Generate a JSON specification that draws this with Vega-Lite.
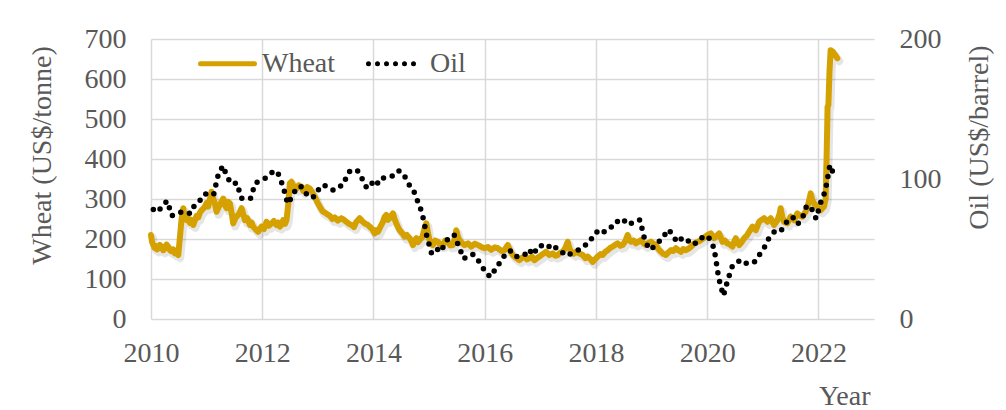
{
  "$schema": "https://vega.github.io/schema/vega-lite/v6.json",
  "autosize": "none",
  "width": 723,
  "height": 280,
  "padding": {"left": 151, "top": 39, "right": 132, "bottom": 91},
  "background": "white",
  "config": {
    "view": {"stroke": null},
    "font": "Liberation Serif",
    "axis": {
      "labelFont": "Liberation Serif",
      "titleFont": "Liberation Serif",
      "labelFontSize": 28,
      "titleFontSize": 28,
      "labelColor": "#595959",
      "titleColor": "#595959",
      "titleFontWeight": "normal",
      "ticks": false,
      "tickSize": 0,
      "domain": false,
      "labelFlush": false,
      "labelOverlap": false,
      "gridColor": "#D9D9D9",
      "gridWidth": 1.5
    },
    "legend": {
      "labelFont": "Liberation Serif",
      "labelFontSize": 28,
      "labelColor": "#595959"
    }
  },
  "datasets": {
    "prices": [
      {"s":"Wheat","t":2010.000,"p":210},{"s":"Wheat","t":2010.020,"p":192},{"s":"Wheat","t":2010.042,"p":185},{"s":"Wheat","t":2010.065,"p":178},{"s":"Wheat","t":2010.090,"p":182},{"s":"Wheat","t":2010.110,"p":174},{"s":"Wheat","t":2010.132,"p":177},{"s":"Wheat","t":2010.160,"p":185},{"s":"Wheat","t":2010.190,"p":181},{"s":"Wheat","t":2010.220,"p":172},{"s":"Wheat","t":2010.251,"p":177},{"s":"Wheat","t":2010.280,"p":186},{"s":"Wheat","t":2010.311,"p":180},{"s":"Wheat","t":2010.340,"p":172},{"s":"Wheat","t":2010.371,"p":169},{"s":"Wheat","t":2010.400,"p":174},{"s":"Wheat","t":2010.431,"p":164},{"s":"Wheat","t":2010.461,"p":166},{"s":"Wheat","t":2010.490,"p":160},{"s":"Wheat","t":2010.521,"p":206},{"s":"Wheat","t":2010.550,"p":250},{"s":"Wheat","t":2010.580,"p":277},{"s":"Wheat","t":2010.610,"p":255},{"s":"Wheat","t":2010.640,"p":247},{"s":"Wheat","t":2010.670,"p":252},{"s":"Wheat","t":2010.700,"p":240},{"s":"Wheat","t":2010.730,"p":248},{"s":"Wheat","t":2010.760,"p":235},{"s":"Wheat","t":2010.790,"p":247},{"s":"Wheat","t":2010.820,"p":258},{"s":"Wheat","t":2010.850,"p":254},{"s":"Wheat","t":2010.880,"p":266},{"s":"Wheat","t":2010.910,"p":272},{"s":"Wheat","t":2010.940,"p":276},{"s":"Wheat","t":2010.969,"p":281},
      {"s":"Wheat","t":2011.000,"p":290},{"s":"Wheat","t":2011.029,"p":281},{"s":"Wheat","t":2011.060,"p":300},{"s":"Wheat","t":2011.089,"p":318},{"s":"Wheat","t":2011.120,"p":300},{"s":"Wheat","t":2011.149,"p":289},{"s":"Wheat","t":2011.179,"p":268},{"s":"Wheat","t":2011.210,"p":278},{"s":"Wheat","t":2011.239,"p":285},{"s":"Wheat","t":2011.270,"p":294},{"s":"Wheat","t":2011.299,"p":301},{"s":"Wheat","t":2011.330,"p":285},{"s":"Wheat","t":2011.359,"p":277},{"s":"Wheat","t":2011.390,"p":293},{"s":"Wheat","t":2011.418,"p":289},{"s":"Wheat","t":2011.450,"p":265},{"s":"Wheat","t":2011.478,"p":239},{"s":"Wheat","t":2011.510,"p":250},{"s":"Wheat","t":2011.538,"p":256},{"s":"Wheat","t":2011.580,"p":262},{"s":"Wheat","t":2011.628,"p":277},{"s":"Wheat","t":2011.660,"p":262},{"s":"Wheat","t":2011.688,"p":247},{"s":"Wheat","t":2011.730,"p":252},{"s":"Wheat","t":2011.777,"p":235},{"s":"Wheat","t":2011.810,"p":241},{"s":"Wheat","t":2011.837,"p":231},{"s":"Wheat","t":2011.880,"p":224},{"s":"Wheat","t":2011.927,"p":218},{"s":"Wheat","t":2011.960,"p":226},{"s":"Wheat","t":2011.987,"p":231},
      {"s":"Wheat","t":2012.030,"p":225},{"s":"Wheat","t":2012.077,"p":243},{"s":"Wheat","t":2012.120,"p":233},{"s":"Wheat","t":2012.166,"p":239},{"s":"Wheat","t":2012.210,"p":245},{"s":"Wheat","t":2012.256,"p":235},{"s":"Wheat","t":2012.290,"p":241},{"s":"Wheat","t":2012.316,"p":231},{"s":"Wheat","t":2012.350,"p":236},{"s":"Wheat","t":2012.376,"p":247},{"s":"Wheat","t":2012.410,"p":238},{"s":"Wheat","t":2012.436,"p":247},{"s":"Wheat","t":2012.470,"p":290},{"s":"Wheat","t":2012.496,"p":339},{"s":"Wheat","t":2012.526,"p":343},{"s":"Wheat","t":2012.570,"p":330},{"s":"Wheat","t":2012.616,"p":326},{"s":"Wheat","t":2012.660,"p":334},{"s":"Wheat","t":2012.705,"p":331},{"s":"Wheat","t":2012.740,"p":320},{"s":"Wheat","t":2012.765,"p":322},{"s":"Wheat","t":2012.810,"p":330},{"s":"Wheat","t":2012.855,"p":326},{"s":"Wheat","t":2012.900,"p":316},{"s":"Wheat","t":2012.944,"p":306},{"s":"Wheat","t":2012.990,"p":292},
      {"s":"Wheat","t":2013.034,"p":281},{"s":"Wheat","t":2013.080,"p":270},{"s":"Wheat","t":2013.124,"p":266},{"s":"Wheat","t":2013.170,"p":262},{"s":"Wheat","t":2013.214,"p":258},{"s":"Wheat","t":2013.260,"p":250},{"s":"Wheat","t":2013.303,"p":254},{"s":"Wheat","t":2013.360,"p":246},{"s":"Wheat","t":2013.423,"p":252},{"s":"Wheat","t":2013.470,"p":248},{"s":"Wheat","t":2013.513,"p":243},{"s":"Wheat","t":2013.560,"p":238},{"s":"Wheat","t":2013.603,"p":235},{"s":"Wheat","t":2013.650,"p":230},{"s":"Wheat","t":2013.692,"p":243},{"s":"Wheat","t":2013.752,"p":252},{"s":"Wheat","t":2013.800,"p":244},{"s":"Wheat","t":2013.842,"p":239},{"s":"Wheat","t":2013.890,"p":236},{"s":"Wheat","t":2013.932,"p":231},{"s":"Wheat","t":2013.980,"p":224},
      {"s":"Wheat","t":2014.022,"p":214},{"s":"Wheat","t":2014.050,"p":222},{"s":"Wheat","t":2014.081,"p":218},{"s":"Wheat","t":2014.130,"p":232},{"s":"Wheat","t":2014.171,"p":243},{"s":"Wheat","t":2014.200,"p":255},{"s":"Wheat","t":2014.231,"p":260},{"s":"Wheat","t":2014.260,"p":248},{"s":"Wheat","t":2014.291,"p":252},{"s":"Wheat","t":2014.320,"p":258},{"s":"Wheat","t":2014.351,"p":264},{"s":"Wheat","t":2014.380,"p":250},{"s":"Wheat","t":2014.411,"p":239},{"s":"Wheat","t":2014.440,"p":230},{"s":"Wheat","t":2014.470,"p":222},{"s":"Wheat","t":2014.520,"p":214},{"s":"Wheat","t":2014.560,"p":206},{"s":"Wheat","t":2014.600,"p":210},{"s":"Wheat","t":2014.650,"p":202},{"s":"Wheat","t":2014.680,"p":195},{"s":"Wheat","t":2014.710,"p":185},{"s":"Wheat","t":2014.740,"p":195},{"s":"Wheat","t":2014.770,"p":202},{"s":"Wheat","t":2014.800,"p":192},{"s":"Wheat","t":2014.829,"p":197},{"s":"Wheat","t":2014.880,"p":205},{"s":"Wheat","t":2014.919,"p":227},{"s":"Wheat","t":2014.949,"p":239},{"s":"Wheat","t":2014.980,"p":215},
      {"s":"Wheat","t":2015.009,"p":197},{"s":"Wheat","t":2015.040,"p":190},{"s":"Wheat","t":2015.069,"p":185},{"s":"Wheat","t":2015.110,"p":196},{"s":"Wheat","t":2015.159,"p":193},{"s":"Wheat","t":2015.200,"p":186},{"s":"Wheat","t":2015.249,"p":185},{"s":"Wheat","t":2015.290,"p":196},{"s":"Wheat","t":2015.338,"p":193},{"s":"Wheat","t":2015.380,"p":184},{"s":"Wheat","t":2015.428,"p":185},{"s":"Wheat","t":2015.460,"p":200},{"s":"Wheat","t":2015.488,"p":222},{"s":"Wheat","t":2015.520,"p":205},{"s":"Wheat","t":2015.548,"p":197},{"s":"Wheat","t":2015.590,"p":190},{"s":"Wheat","t":2015.637,"p":185},{"s":"Wheat","t":2015.700,"p":189},{"s":"Wheat","t":2015.757,"p":181},{"s":"Wheat","t":2015.820,"p":188},{"s":"Wheat","t":2015.877,"p":185},{"s":"Wheat","t":2015.940,"p":180},{"s":"Wheat","t":2015.996,"p":177},
      {"s":"Wheat","t":2016.060,"p":180},{"s":"Wheat","t":2016.116,"p":173},{"s":"Wheat","t":2016.180,"p":179},{"s":"Wheat","t":2016.236,"p":177},{"s":"Wheat","t":2016.300,"p":170},{"s":"Wheat","t":2016.355,"p":172},{"s":"Wheat","t":2016.415,"p":185},{"s":"Wheat","t":2016.460,"p":170},{"s":"Wheat","t":2016.505,"p":160},{"s":"Wheat","t":2016.560,"p":153},{"s":"Wheat","t":2016.625,"p":147},{"s":"Wheat","t":2016.670,"p":153},{"s":"Wheat","t":2016.715,"p":156},{"s":"Wheat","t":2016.760,"p":149},{"s":"Wheat","t":2016.804,"p":152},{"s":"Wheat","t":2016.850,"p":156},{"s":"Wheat","t":2016.894,"p":147},{"s":"Wheat","t":2016.940,"p":152},{"s":"Wheat","t":2016.984,"p":156},
      {"s":"Wheat","t":2017.040,"p":162},{"s":"Wheat","t":2017.104,"p":168},{"s":"Wheat","t":2017.160,"p":160},{"s":"Wheat","t":2017.223,"p":164},{"s":"Wheat","t":2017.270,"p":158},{"s":"Wheat","t":2017.313,"p":160},{"s":"Wheat","t":2017.360,"p":166},{"s":"Wheat","t":2017.403,"p":168},{"s":"Wheat","t":2017.450,"p":178},{"s":"Wheat","t":2017.493,"p":193},{"s":"Wheat","t":2017.520,"p":178},{"s":"Wheat","t":2017.552,"p":168},{"s":"Wheat","t":2017.600,"p":163},{"s":"Wheat","t":2017.642,"p":168},{"s":"Wheat","t":2017.700,"p":164},{"s":"Wheat","t":2017.762,"p":160},{"s":"Wheat","t":2017.810,"p":152},{"s":"Wheat","t":2017.852,"p":156},{"s":"Wheat","t":2017.900,"p":150},{"s":"Wheat","t":2017.941,"p":143},{"s":"Wheat","t":2017.990,"p":150},
      {"s":"Wheat","t":2018.031,"p":156},{"s":"Wheat","t":2018.080,"p":162},{"s":"Wheat","t":2018.121,"p":160},{"s":"Wheat","t":2018.170,"p":168},{"s":"Wheat","t":2018.211,"p":172},{"s":"Wheat","t":2018.260,"p":178},{"s":"Wheat","t":2018.301,"p":181},{"s":"Wheat","t":2018.350,"p":186},{"s":"Wheat","t":2018.390,"p":189},{"s":"Wheat","t":2018.440,"p":183},{"s":"Wheat","t":2018.480,"p":185},{"s":"Wheat","t":2018.530,"p":195},{"s":"Wheat","t":2018.570,"p":210},{"s":"Wheat","t":2018.600,"p":198},{"s":"Wheat","t":2018.630,"p":193},{"s":"Wheat","t":2018.680,"p":196},{"s":"Wheat","t":2018.720,"p":189},{"s":"Wheat","t":2018.770,"p":194},{"s":"Wheat","t":2018.810,"p":197},{"s":"Wheat","t":2018.850,"p":190},{"s":"Wheat","t":2018.899,"p":185},{"s":"Wheat","t":2018.940,"p":190},{"s":"Wheat","t":2018.989,"p":193},
      {"s":"Wheat","t":2019.040,"p":188},{"s":"Wheat","t":2019.079,"p":185},{"s":"Wheat","t":2019.120,"p":175},{"s":"Wheat","t":2019.169,"p":168},{"s":"Wheat","t":2019.210,"p":163},{"s":"Wheat","t":2019.258,"p":160},{"s":"Wheat","t":2019.300,"p":166},{"s":"Wheat","t":2019.348,"p":172},{"s":"Wheat","t":2019.390,"p":170},{"s":"Wheat","t":2019.438,"p":177},{"s":"Wheat","t":2019.480,"p":172},{"s":"Wheat","t":2019.528,"p":168},{"s":"Wheat","t":2019.570,"p":175},{"s":"Wheat","t":2019.617,"p":172},{"s":"Wheat","t":2019.677,"p":177},{"s":"Wheat","t":2019.720,"p":182},{"s":"Wheat","t":2019.767,"p":189},{"s":"Wheat","t":2019.830,"p":193},{"s":"Wheat","t":2019.886,"p":197},{"s":"Wheat","t":2019.950,"p":204},
      {"s":"Wheat","t":2020.006,"p":210},{"s":"Wheat","t":2020.066,"p":214},{"s":"Wheat","t":2020.095,"p":206},{"s":"Wheat","t":2020.126,"p":202},{"s":"Wheat","t":2020.170,"p":208},{"s":"Wheat","t":2020.215,"p":214},{"s":"Wheat","t":2020.245,"p":204},{"s":"Wheat","t":2020.275,"p":193},{"s":"Wheat","t":2020.320,"p":196},{"s":"Wheat","t":2020.365,"p":189},{"s":"Wheat","t":2020.410,"p":186},{"s":"Wheat","t":2020.455,"p":181},{"s":"Wheat","t":2020.485,"p":193},{"s":"Wheat","t":2020.515,"p":202},{"s":"Wheat","t":2020.545,"p":192},{"s":"Wheat","t":2020.575,"p":185},{"s":"Wheat","t":2020.620,"p":192},{"s":"Wheat","t":2020.664,"p":202},{"s":"Wheat","t":2020.710,"p":208},{"s":"Wheat","t":2020.754,"p":218},{"s":"Wheat","t":2020.814,"p":231},{"s":"Wheat","t":2020.874,"p":222},{"s":"Wheat","t":2020.934,"p":243},{"s":"Wheat","t":2020.980,"p":248},
      {"s":"Wheat","t":2021.023,"p":252},{"s":"Wheat","t":2021.083,"p":243},{"s":"Wheat","t":2021.143,"p":252},{"s":"Wheat","t":2021.203,"p":235},{"s":"Wheat","t":2021.263,"p":247},{"s":"Wheat","t":2021.300,"p":262},{"s":"Wheat","t":2021.322,"p":277},{"s":"Wheat","t":2021.350,"p":256},{"s":"Wheat","t":2021.382,"p":243},{"s":"Wheat","t":2021.442,"p":239},{"s":"Wheat","t":2021.502,"p":256},{"s":"Wheat","t":2021.562,"p":247},{"s":"Wheat","t":2021.622,"p":264},{"s":"Wheat","t":2021.670,"p":258},{"s":"Wheat","t":2021.711,"p":256},{"s":"Wheat","t":2021.771,"p":268},{"s":"Wheat","t":2021.820,"p":288},{"s":"Wheat","t":2021.861,"p":314},{"s":"Wheat","t":2021.890,"p":298},{"s":"Wheat","t":2021.921,"p":289},{"s":"Wheat","t":2021.981,"p":281},
      {"s":"Wheat","t":2022.041,"p":272},{"s":"Wheat","t":2022.101,"p":281},{"s":"Wheat","t":2022.130,"p":300},{"s":"Wheat","t":2022.150,"p":420},{"s":"Wheat","t":2022.165,"p":530},{"s":"Wheat","t":2022.180,"p":535},{"s":"Wheat","t":2022.200,"p":620},{"s":"Wheat","t":2022.220,"p":672},{"s":"Wheat","t":2022.260,"p":668},{"s":"Wheat","t":2022.300,"p":660},{"s":"Wheat","t":2022.340,"p":652},
      {"s":"Oil","t":2010.042,"p":78.3},{"s":"Oil","t":2010.125,"p":76.4},{"s":"Oil","t":2010.208,"p":81.2},{"s":"Oil","t":2010.292,"p":84.3},{"s":"Oil","t":2010.375,"p":73.7},{"s":"Oil","t":2010.458,"p":75.3},{"s":"Oil","t":2010.542,"p":76.3},{"s":"Oil","t":2010.625,"p":76.6},{"s":"Oil","t":2010.708,"p":75.2},{"s":"Oil","t":2010.792,"p":81.9},{"s":"Oil","t":2010.875,"p":84.3},{"s":"Oil","t":2010.958,"p":89.2},
      {"s":"Oil","t":2011.042,"p":89.2},{"s":"Oil","t":2011.125,"p":88.6},{"s":"Oil","t":2011.208,"p":102.9},{"s":"Oil","t":2011.292,"p":109.5},{"s":"Oil","t":2011.375,"p":100.9},{"s":"Oil","t":2011.458,"p":96.3},{"s":"Oil","t":2011.542,"p":97.3},{"s":"Oil","t":2011.625,"p":86.3},{"s":"Oil","t":2011.708,"p":85.5},{"s":"Oil","t":2011.792,"p":86.3},{"s":"Oil","t":2011.875,"p":97.2},{"s":"Oil","t":2011.958,"p":98.6},
      {"s":"Oil","t":2012.042,"p":100.3},{"s":"Oil","t":2012.125,"p":102.2},{"s":"Oil","t":2012.208,"p":106.2},{"s":"Oil","t":2012.292,"p":103.3},{"s":"Oil","t":2012.375,"p":94.7},{"s":"Oil","t":2012.458,"p":82.3},{"s":"Oil","t":2012.542,"p":87.9},{"s":"Oil","t":2012.625,"p":94.1},{"s":"Oil","t":2012.708,"p":94.5},{"s":"Oil","t":2012.792,"p":89.5},{"s":"Oil","t":2012.875,"p":86.5},{"s":"Oil","t":2012.958,"p":87.9},
      {"s":"Oil","t":2013.042,"p":94.8},{"s":"Oil","t":2013.125,"p":95.3},{"s":"Oil","t":2013.208,"p":92.9},{"s":"Oil","t":2013.292,"p":92.0},{"s":"Oil","t":2013.375,"p":94.5},{"s":"Oil","t":2013.458,"p":95.8},{"s":"Oil","t":2013.542,"p":104.6},{"s":"Oil","t":2013.625,"p":106.6},{"s":"Oil","t":2013.708,"p":106.3},{"s":"Oil","t":2013.792,"p":100.5},{"s":"Oil","t":2013.875,"p":93.9},{"s":"Oil","t":2013.958,"p":97.6},
      {"s":"Oil","t":2014.042,"p":94.6},{"s":"Oil","t":2014.125,"p":100.8},{"s":"Oil","t":2014.208,"p":100.8},{"s":"Oil","t":2014.292,"p":102.1},{"s":"Oil","t":2014.375,"p":102.2},{"s":"Oil","t":2014.458,"p":105.8},{"s":"Oil","t":2014.542,"p":103.6},{"s":"Oil","t":2014.625,"p":96.5},{"s":"Oil","t":2014.708,"p":93.2},{"s":"Oil","t":2014.792,"p":84.4},{"s":"Oil","t":2014.875,"p":75.8},{"s":"Oil","t":2014.958,"p":59.3},
      {"s":"Oil","t":2015.042,"p":47.2},{"s":"Oil","t":2015.125,"p":50.6},{"s":"Oil","t":2015.208,"p":47.8},{"s":"Oil","t":2015.292,"p":54.5},{"s":"Oil","t":2015.375,"p":59.3},{"s":"Oil","t":2015.458,"p":59.8},{"s":"Oil","t":2015.542,"p":50.9},{"s":"Oil","t":2015.625,"p":42.9},{"s":"Oil","t":2015.708,"p":45.5},{"s":"Oil","t":2015.792,"p":46.2},{"s":"Oil","t":2015.875,"p":42.4},{"s":"Oil","t":2015.958,"p":37.2},
      {"s":"Oil","t":2016.042,"p":31.7},{"s":"Oil","t":2016.125,"p":30.3},{"s":"Oil","t":2016.208,"p":37.5},{"s":"Oil","t":2016.292,"p":40.8},{"s":"Oil","t":2016.375,"p":46.7},{"s":"Oil","t":2016.458,"p":48.8},{"s":"Oil","t":2016.542,"p":44.7},{"s":"Oil","t":2016.625,"p":44.7},{"s":"Oil","t":2016.708,"p":45.2},{"s":"Oil","t":2016.792,"p":49.8},{"s":"Oil","t":2016.875,"p":45.7},{"s":"Oil","t":2016.958,"p":52.0},
      {"s":"Oil","t":2017.042,"p":52.5},{"s":"Oil","t":2017.125,"p":53.5},{"s":"Oil","t":2017.208,"p":49.3},{"s":"Oil","t":2017.292,"p":51.1},{"s":"Oil","t":2017.375,"p":48.5},{"s":"Oil","t":2017.458,"p":45.2},{"s":"Oil","t":2017.542,"p":46.6},{"s":"Oil","t":2017.625,"p":48.0},{"s":"Oil","t":2017.708,"p":49.8},{"s":"Oil","t":2017.792,"p":51.6},{"s":"Oil","t":2017.875,"p":56.6},{"s":"Oil","t":2017.958,"p":57.9},
      {"s":"Oil","t":2018.042,"p":63.7},{"s":"Oil","t":2018.125,"p":62.2},{"s":"Oil","t":2018.208,"p":62.7},{"s":"Oil","t":2018.292,"p":66.3},{"s":"Oil","t":2018.375,"p":70.0},{"s":"Oil","t":2018.458,"p":67.9},{"s":"Oil","t":2018.542,"p":71.0},{"s":"Oil","t":2018.625,"p":68.1},{"s":"Oil","t":2018.708,"p":70.2},{"s":"Oil","t":2018.792,"p":70.8},{"s":"Oil","t":2018.875,"p":57.0},{"s":"Oil","t":2018.958,"p":49.5},
      {"s":"Oil","t":2019.042,"p":51.4},{"s":"Oil","t":2019.125,"p":54.9},{"s":"Oil","t":2019.208,"p":58.2},{"s":"Oil","t":2019.292,"p":63.9},{"s":"Oil","t":2019.375,"p":60.8},{"s":"Oil","t":2019.458,"p":54.7},{"s":"Oil","t":2019.542,"p":57.4},{"s":"Oil","t":2019.625,"p":54.8},{"s":"Oil","t":2019.708,"p":57.0},{"s":"Oil","t":2019.792,"p":54.0},{"s":"Oil","t":2019.875,"p":57.0},{"s":"Oil","t":2019.958,"p":59.9},
      {"s":"Oil","t":2020.042,"p":57.5},{"s":"Oil","t":2020.125,"p":50.5},{"s":"Oil","t":2020.208,"p":29.2},{"s":"Oil","t":2020.292,"p":16.6},{"s":"Oil","t":2020.375,"p":28.5},{"s":"Oil","t":2020.458,"p":38.3},{"s":"Oil","t":2020.542,"p":40.7},{"s":"Oil","t":2020.625,"p":42.3},{"s":"Oil","t":2020.708,"p":39.6},{"s":"Oil","t":2020.792,"p":39.4},{"s":"Oil","t":2020.875,"p":41.4},{"s":"Oil","t":2020.958,"p":47.0},
      {"s":"Oil","t":2021.042,"p":52.0},{"s":"Oil","t":2021.125,"p":59.0},{"s":"Oil","t":2021.208,"p":62.3},{"s":"Oil","t":2021.292,"p":61.7},{"s":"Oil","t":2021.375,"p":65.2},{"s":"Oil","t":2021.458,"p":71.4},{"s":"Oil","t":2021.542,"p":72.5},{"s":"Oil","t":2021.625,"p":67.7},{"s":"Oil","t":2021.708,"p":71.5},{"s":"Oil","t":2021.792,"p":81.2},{"s":"Oil","t":2021.875,"p":79.2},{"s":"Oil","t":2021.958,"p":71.7},
      {"s":"Oil","t":2022.042,"p":83.2},{"s":"Oil","t":2022.125,"p":91.6},{"s":"Oil","t":2022.208,"p":110.0},{"s":"Oil","t":2022.292,"p":101.8}
    ]
  },
  "data": {"name": "prices"},
  "encoding": {
    "x": {
      "field": "t", "type": "quantitative",
      "scale": {"domain": [2010, 2023], "nice": false, "zero": false},
      "axis": {
        "values": [2010, 2012, 2014, 2016, 2018, 2020, 2022],
        "format": "d",
        "grid": true,
        "labelPadding": 20,
        "title": "Year",
        "titleX": 719,
        "titleY": 85,
        "titleAlign": "right",
        "titleBaseline": "alphabetic",
        "titleAnchor": null
      }
    }
  },
  "layer": [
    {
      "transform": [{"filter": "datum.s === 'Wheat'"}],
      "mark": {"type": "line", "strokeWidth": 8, "strokeJoin": "round", "strokeCap": "round", "color": "#000000", "opacity": 0.1, "xOffset": 2, "yOffset": 3},
      "encoding": {
        "y": {
          "field": "p", "type": "quantitative",
          "scale": {"domain": [0, 700], "nice": false},
          "axis": null
        }
      }
    },
    {
      "transform": [{"filter": "datum.s === 'Wheat'"}],
      "mark": {"type": "line", "strokeWidth": 6, "strokeJoin": "round", "strokeCap": "round"},
      "encoding": {
        "y": {
          "field": "p", "type": "quantitative",
          "scale": {"domain": [0, 700], "nice": false},
          "axis": {
            "orient": "left",
            "values": [0, 100, 200, 300, 400, 500, 600, 700],
            "grid": true,
            "labelPadding": 25,
            "title": "Wheat (US$/tonne)",
            "titleAngle": -90,
            "titleX": -109,
            "titleY": 116,
            "titleAlign": "center",
            "titleBaseline": "middle"
          }
        },
        "color": {
          "field": "s", "type": "nominal",
          "scale": {"domain": ["Wheat", "Oil"], "range": ["#D5A100", "#000000"]},
          "legend": {
            "title": null,
            "orient": "none",
            "legendX": 47,
            "legendY": -5,
            "direction": "horizontal",
            "symbolType": "stroke",
            "symbolSize": 2916,
            "symbolStrokeWidth": 5,
            "labelOffset": 5,
            "columnPadding": 22,
            "padding": 0,
            "encode": {"symbols": {"update": {"strokeCap": {"value": "round"}}}}
          }
        },
        "strokeDash": {
          "field": "s", "type": "nominal",
          "scale": {"domain": ["Wheat", "Oil"], "range": [[1, 0], [0, 9]]}
        }
      }
    },
    {
      "transform": [{"filter": "datum.s === 'Oil'"}],
      "mark": {"type": "line", "strokeWidth": 5.5, "strokeCap": "round", "strokeJoin": "round"},
      "encoding": {
        "y": {
          "field": "p", "type": "quantitative",
          "scale": {"domain": [0, 200], "nice": false},
          "axis": {
            "orient": "right",
            "values": [0, 100, 200],
            "grid": false,
            "labelPadding": 25,
            "title": "Oil (US$/barrel)",
            "titleAngle": -90,
            "titleX": 105,
            "titleY": 98,
            "titleAlign": "center",
            "titleBaseline": "middle"
          }
        },
        "color": {"field": "s", "type": "nominal"},
        "strokeDash": {"field": "s", "type": "nominal"}
      }
    }
  ],
  "resolve": {"scale": {"y": "independent"}}
}
